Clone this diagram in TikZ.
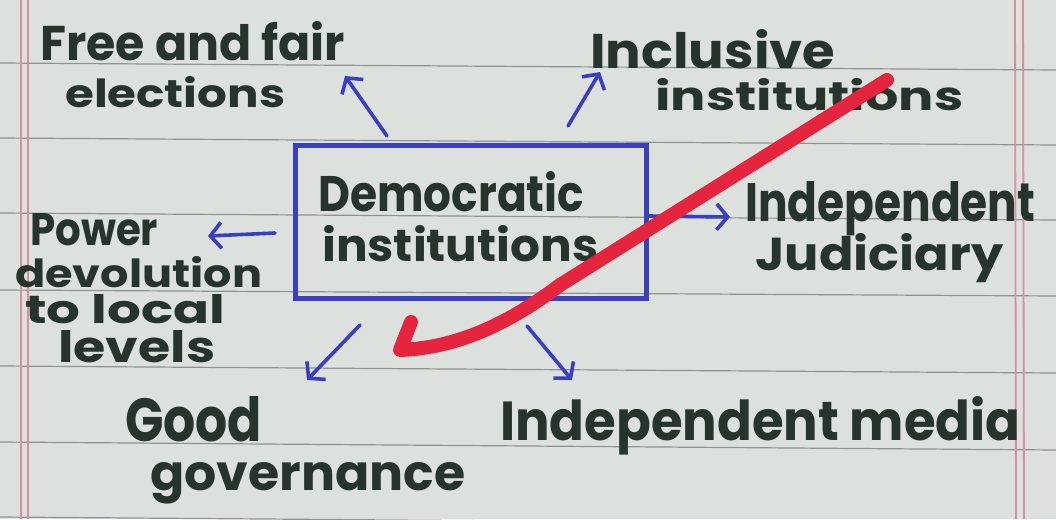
\documentclass[tikz,border=0pt]{standalone}
\usepackage{fontspec}
\setmainfont{Poppins}
\usetikzlibrary{arrows.meta}
\definecolor{paper}{HTML}{DDE1DE}
\definecolor{rule}{HTML}{8E9392}
\definecolor{margin}{HTML}{D98E9E}
\definecolor{ink}{HTML}{27342C}
\definecolor{pen}{HTML}{3A3FC2}
\definecolor{marker}{HTML}{E5243D}
\tikzset{
  hw/.style={inner sep=0pt, anchor=base west, text=ink, font=\bfseries},
  bluearrow/.style={draw=pen, line width=3.6pt, line cap=round, line join=round,
    -{Straight Barb[length=11pt,width=26pt,line width=3.6pt]}},
  boxstyle/.style={draw=pen, line width=5pt, inner sep=0pt},
  ruled/.style={draw=rule, line width=1.2pt},
  marg/.style={draw=margin, line width=1.8pt},
}
\newcommand{\hwt}[3]{\resizebox{#1pt}{#2pt}{#3}}
\begin{document}
\begin{tikzpicture}[x=1pt,y=-1pt]
\useasboundingbox (0,0) rectangle (1056,519);
\fill[paper] (0,0) rectangle (1056,519);
% ruled lines
\foreach \a/\b in {63/70,138/145,213/220,290/296,366/373,442/450,517/525}
  \draw[ruled] (0,\a) -- (1056,\b);
% margin lines
\draw[marg] (21,0) -- (21,519);
\draw[marg] (28,0) -- (28,519);
\draw[marg] (1015,0) -- (1016,519);
\draw[marg] (1023,0) -- (1024,519);

% central box
\node[boxstyle, minimum width=351pt, minimum height=153pt, anchor=north west] (box) at (293,143) {};
\node[hw] (dem) at (318,211) {\hwt{266}{40}{Democratic}};
\node[hw] (ins) at (322,261) {\hwt{276}{36}{institutions}};

% labels
\node[hw] (f1) at (40,60) {\hwt{305}{39}{Free and fair}};
\node[hw] (f2) at (65,107) {\hwt{220}{31}{elections}};
\node[hw] (i1) at (590,68) {\hwt{245}{39}{Inclusive}};
\node[hw] (i2) at (655,110) {\hwt{308}{32}{institutions}};
\node[hw] (j1) at (745,221) {\hwt{290}{40}{Independent}};
\node[hw] (j2) at (755,270) {\hwt{248}{37}{Judiciary}};
\node[hw] (p1) at (30,245) {\hwt{128}{32}{Power}};
\node[hw] (p2) at (15,287) {\hwt{247}{31}{devolution}};
\node[hw] (p3) at (25,323) {\hwt{200}{29}{to local}};
\node[hw] (p4) at (58,362) {\hwt{157}{32}{levels}};
\node[hw] (g1) at (125,441) {\hwt{137}{45}{Good}};
\node[hw] (g2) at (150,490) {\hwt{315}{28}{governance}};
\node[hw] (m1) at (500,440) {\hwt{520}{44}{Independent media}};

% connector ends
\coordinate (t1) at (345,76);
\coordinate (t2) at (600,72);
\coordinate (t3) at (730,217);
\coordinate (t4) at (208,236);
\coordinate (t5) at (307,380);
\coordinate (t6) at (572,380);
\draw[bluearrow] (387,136) -- (t1);
\draw[bluearrow] (568,126) -- (t2);
\draw[bluearrow] (box.east |- 0,216) -- (t3);
\draw[bluearrow] (275,233) -- (t4);
\draw[bluearrow] (360,325) -- (t5);
\draw[bluearrow] (527,326) -- (t6);

% red marker arrow
\coordinate (r0) at (887,80);
\coordinate (r1) at (400,350);
\draw[marker, line width=14pt, line cap=round, line join=round]
  (r0) -- (560,285) .. controls (500,330) and (450,348) .. (r1) -- (411,322);
\end{tikzpicture}
\end{document}
